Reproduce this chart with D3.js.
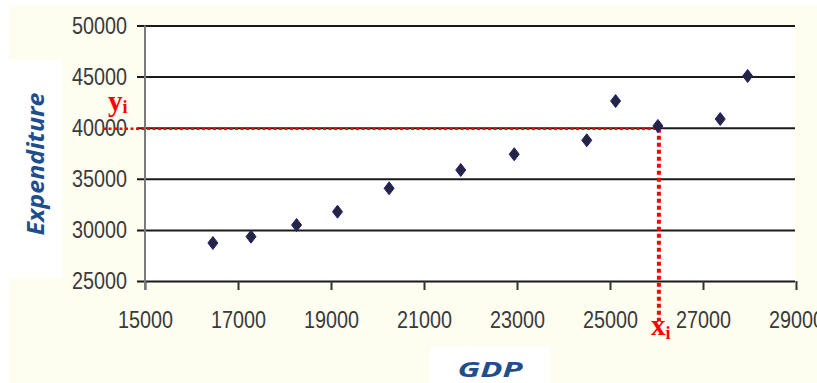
<!DOCTYPE html>
<html>
<head>
<meta charset="utf-8">
<script src="https://cdn.jsdelivr.net/npm/d3@7/dist/d3.min.js"></script>
<style>
  html, body { margin: 0; padding: 0; background: #ffffff; }
  svg { display: block; }
  .tick text { font-family: "Liberation Sans", Arial, sans-serif; font-size: 24px; fill: #3a3a3a; }
</style>
</head>
<body>
<svg id="chart" width="817" height="383"></svg>
<script>
// GDP vs. expenditure observations
const gdp         = [16460, 17280, 18260, 19140, 20250, 21790, 22940, 24500, 25120, 26030, 27370, 27960];
const expenditure = [28720, 29340, 30480, 31780, 34070, 35860, 37400, 38770, 42610, 40170, 40850, 45060];

// Axis tick values
const xTicks = [15000, 17000, 19000, 21000, 23000, 25000, 27000, 29000];
const yTicks = [25000, 30000, 35000, 40000, 45000, 50000];

// Highlighted observation (x_i, y_i)
const highlightIndex = 9;
const yiLevel = 39900;

const svg = d3.select("#chart");
const W = 817, H = 383;
const plot = { left: 145, right: 796, top: 25.5, bottom: 281 };

const x = d3.scaleLinear().domain([15000, 29000]).range([plot.left, plot.right]);
const y = d3.scaleLinear().domain([25000, 50000]).range([plot.bottom, plot.top]);

// Chart area and label boxes
svg.append("rect").attr("x", 9).attr("y", 5).attr("width", W - 9).attr("height", H - 5).attr("fill", "#fdfdf0");
svg.append("rect").attr("x", 0).attr("y", 60).attr("width", 62).attr("height", 218).attr("fill", "#ffffff");
svg.append("rect").attr("x", 430).attr("y", 347).attr("width", 120).attr("height", 36).attr("fill", "#ffffff");
svg.append("rect").attr("x", plot.left).attr("y", plot.top)
  .attr("width", 795 - plot.left).attr("height", plot.bottom - plot.top).attr("fill", "#ffffff");

// Condensed numeric labels
function condense(sel) {
  sel.selectAll(".tick text")
    .attr("textLength", 55)
    .attr("lengthAdjust", "spacingAndGlyphs");
}

// Y axis with gridlines
const yAxis = svg.append("g")
  .attr("transform", `translate(${plot.left},0)`)
  .call(d3.axisLeft(y).tickValues(yTicks).tickFormat(d3.format("d")).tickSize(0).tickPadding(18));
yAxis.select(".domain").remove();
yAxis.selectAll(".tick line")
  .attr("x1", -8).attr("x2", 795 - plot.left)
  .attr("stroke", "#1a1a1a").attr("stroke-width", 2);
condense(yAxis);

// X axis tick marks and labels
const xAxis = svg.append("g")
  .attr("transform", `translate(0,${plot.bottom})`)
  .call(d3.axisBottom(x).tickValues(xTicks).tickFormat(d3.format("d")).tickSize(9).tickPadding(21).tickSizeOuter(0));
xAxis.select(".domain").remove();
xAxis.selectAll(".tick line").attr("stroke", "#333").attr("stroke-width", 2);
condense(xAxis);

// Vertical axis line
svg.append("line")
  .attr("x1", plot.left).attr("x2", plot.left)
  .attr("y1", plot.top).attr("y2", plot.bottom + 9)
  .attr("stroke", "#7a7a7a").attr("stroke-width", 2);

// Guide lines to the highlighted observation
const hx = x(gdp[highlightIndex]);
const hy = y(yiLevel);
svg.append("line")
  .attr("x1", 103).attr("x2", hx).attr("y1", hy).attr("y2", hy)
  .attr("stroke", "#ff0000").attr("stroke-width", 2.5).attr("stroke-dasharray", "3,2.5");
svg.append("line")
  .attr("x1", hx + 1).attr("x2", hx + 1).attr("y1", hy).attr("y2", 321)
  .attr("stroke", "#ff0000").attr("stroke-width", 4).attr("stroke-dasharray", "4,3");

// Observations as diamonds
svg.append("g").selectAll("path")
  .data(gdp.map((g, i) => [g, expenditure[i]]))
  .join("path")
  .attr("transform", d => `translate(${x(d[0])},${y(d[1])})`)
  .attr("d", "M0,-6.5L5,0L0,6.5L-5,0Z")
  .attr("fill", "#25253d")
  .attr("stroke", "#1c1c8a")
  .attr("stroke-width", 1);

// y_i and x_i labels
const serif = '"Liberation Serif", "Times New Roman", serif';
const yi = svg.append("text").attr("x", 108).attr("y", 111)
  .attr("font-family", serif).attr("font-weight", "bold").attr("fill", "#ff0000").attr("font-size", 29);
yi.append("tspan").text("y");
yi.append("tspan").attr("font-size", 18).attr("dy", 2).text("i");

const xi = svg.append("text").attr("x", 651).attr("y", 335)
  .attr("font-family", serif).attr("font-weight", "bold").attr("fill", "#ff0000").attr("font-size", 29);
xi.append("tspan").text("x");
xi.append("tspan").attr("font-size", 18).attr("dy", 4).text("i");

// Axis titles
const titleFont = '"Open Sans", "DejaVu Sans", sans-serif';
svg.append("text")
  .attr("transform", "translate(44,164) rotate(-90)")
  .attr("text-anchor", "middle")
  .attr("font-family", titleFont).attr("font-weight", "bold").attr("font-style", "italic")
  .attr("font-size", 24).attr("fill", "#1f4e8c")
  .attr("textLength", 143).attr("lengthAdjust", "spacingAndGlyphs")
  .text("Expenditure");
svg.append("text")
  .attr("x", 490).attr("y", 377)
  .attr("text-anchor", "middle")
  .attr("font-family", titleFont).attr("font-weight", "bold").attr("font-style", "italic")
  .attr("font-size", 21).attr("fill", "#1f4e8c")
  .attr("textLength", 65).attr("lengthAdjust", "spacingAndGlyphs")
  .text("GDP");
</script>
</body>
</html>
